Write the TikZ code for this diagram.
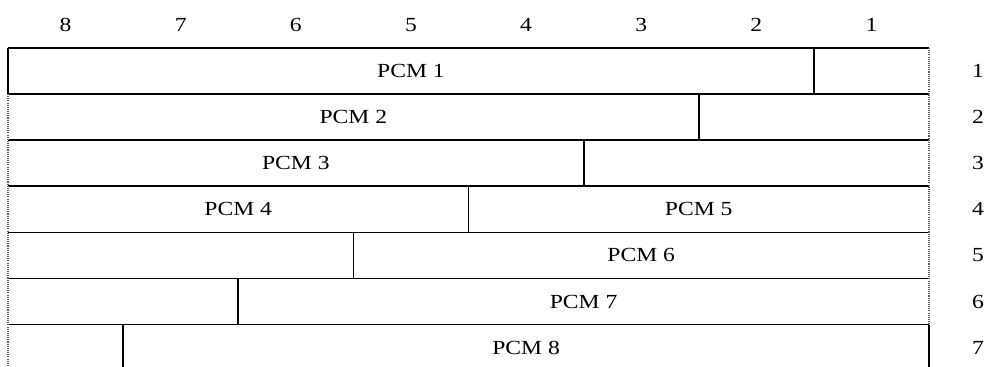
\documentclass[tikz,border=0pt]{standalone}
\usepackage{fontspec}
\setmainfont{Liberation Serif}

\tikzset{
  cell/.style={line width=1.3pt, black},
  edge/.style={line width=1.6pt, black!65, dash pattern=on 0.8pt off 0.8pt},
  lbl/.style={font=\fontsize{15}{17}\selectfont, inner sep=1pt, xscale=1.18}
}

\begin{document}
\begin{tikzpicture}[x=0.75pt, y=-0.75pt, every node/.style={lbl}]
	\useasboundingbox (0,0) rectangle (988,367);
	\def\w{115.125}
	\def\h{46.1}

	% bit numbers on top, row numbers on the right
	\foreach \c in {1,...,8}
		\node (bit\c) at ({929-\w*(\c-0.5)}, 25) {\c};
	\foreach \r in {1,...,7}
		\node (oct\r) at (978, {48+\h*(\r-0.5)}) {\r};

	% horizontal rules
	\foreach \k in {0,...,6}
		\draw[cell] (8, {48+\h*\k}) -- (929, {48+\h*\k});

	% split of each row
	\foreach \r/\b in {1/94, 2/140.2, 3/186.3, 4/232.4, 5/278.5, 6/324.6, 7/367}
		\draw[cell] ({8+(8-\r)*\w}, {48+\h*(\r-1)}) -- ({8+(8-\r)*\w}, \b);

	% outer edges
	\draw[cell] (8, 48) -- (8, 94);
	\draw[edge] (8, 94) -- (8, 367);
	\draw[edge] (929, 48) -- (929, 324.6);
	\draw[cell] (929, 324.6) -- (929, 367);

	% field names
	\node (pcm1) at ({(8+8+7*\w)/2}, {48+\h*0.5}) {PCM 1};
	\node (pcm2) at ({(8+8+6*\w)/2}, {48+\h*1.5}) {PCM 2};
	\node (pcm3) at ({(8+8+5*\w)/2}, {48+\h*2.5}) {PCM 3};
	\node (pcm4) at ({(8+8+4*\w)/2}, {48+\h*3.5}) {PCM 4};
	\node (pcm5) at ({(929+8+4*\w)/2}, {48+\h*3.5}) {PCM 5};
	\node (pcm6) at ({(929+8+3*\w)/2}, {48+\h*4.5}) {PCM 6};
	\node (pcm7) at ({(929+8+2*\w)/2}, {48+\h*5.5}) {PCM 7};
	\node (pcm8) at ({(929+8+1*\w)/2}, {48+\h*6.5}) {PCM 8};
\end{tikzpicture}
\end{document}
